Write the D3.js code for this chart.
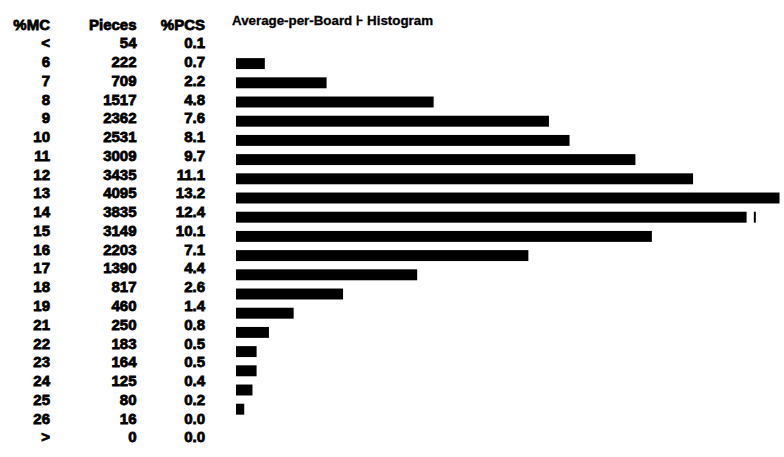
<!DOCTYPE html>
<html>
<head>
<meta charset="utf-8">
<script src="https://cdn.jsdelivr.net/npm/d3@7"></script>
<style>
  body { margin: 0; background: #fff; }
  text { font-family: "Liberation Sans", Arial, sans-serif; font-weight: bold; fill: #000; }
  .cell { font-size: 15px; stroke: #000; stroke-width: 0.8px; }
  .title { font-size: 12.5px; stroke: #000; stroke-width: 0.3px; }
  .bar { fill: #000; }
</style>
</head>
<body>
<script>
// table data
const mcClasses = ["<", "6", "7", "8", "9", "10", "11", "12", "13", "14", "15",
                   "16", "17", "18", "19", "21", "22", "23", "24", "25", "26", ">"];
const pieces = [54, 222, 709, 1517, 2362, 2531, 3009, 3435, 4095, 3835, 3149,
                2203, 1390, 817, 460, 250, 183, 164, 125, 80, 16, 0];
const pctPieces = [0.1, 0.7, 2.2, 4.8, 7.6, 8.1, 9.7, 11.1, 13.2, 12.4, 10.1,
                   7.1, 4.4, 2.6, 1.4, 0.8, 0.5, 0.5, 0.4, 0.2, 0.0, 0.0];
const headers = ["%MC", "Pieces", "%PCS"];
const chartTitle = "Average-per-Board \u22A6 Histogram";
const overflowClasses = ["<", ">"]; // no bar for these
const markerClass = "14", markerValue = 12.6;

let width = 784, height = 457;
let svg = null;
let yRow, yBar, x = null; // scales
let rows, histRows;

buildRows();
appendSvg("body");
setupScales();
appendTable();
appendTitle();
appendBars();
appendMarker();

function buildRows() {
  rows = mcClasses.map((c, i) => ({mc: c, pieces: pieces[i], pct: pctPieces[i]}));
  histRows = rows.filter(d => !overflowClasses.includes(d.mc));
}

function appendSvg(domElement) {
  svg = d3.select(domElement).append("svg")
    .attr("width", width)
    .attr("height", height);
}

function setupScales() {
  // table rows
  yRow = d3.scaleBand()
    .domain(mcClasses)
    .range([33.6, 446.3]);

  // histogram rows sit on their own slightly wider grid
  yBar = d3.scaleBand()
    .domain(histRows.map(d => d.mc))
    .range([54, 438])
    .paddingInner(0.43)
    .paddingOuter(0.215);

  x = d3.scaleLinear()
    .domain([0, 13.26])
    .range([236, 782]);
}

function appendTable() {
  const cols = [
    {x: 50, get: d => d.mc},
    {x: 136.5, get: d => d.pieces},
    {x: 205, get: d => d.pct.toFixed(1)}
  ];
  const headY = yRow(mcClasses[0]) - yRow.step() / 2;

  cols.forEach((col, ci) => {
    svg.append("text")
      .attr("class", "cell")
      .attr("x", col.x)
      .attr("y", headY)
      .attr("dy", "0.36em")
      .attr("text-anchor", "end")
      .text(headers[ci]);

    svg.selectAll(null)
      .data(rows)
      .enter().append("text")
      .attr("class", "cell")
      .attr("x", col.x)
      .attr("y", d => yRow(d.mc) + yRow.bandwidth() / 2)
      .attr("dy", "0.36em")
      .attr("text-anchor", "end")
      .text(col.get);
  });
}

function appendTitle() {
  svg.append("text")
    .attr("class", "title")
    .attr("x", 232)
    .attr("y", 25)
    .attr("textLength", 201)
    .attr("lengthAdjust", "spacingAndGlyphs")
    .text(chartTitle);
}

function appendBars() {
  svg.selectAll(".bar")
    .data(histRows)
    .enter().append("rect")
    .attr("class", "bar")
    .attr("x", x(0))
    .attr("y", d => yBar(d.mc))
    .attr("width", d => x(d.pct) - x(0))
    .attr("height", yBar.bandwidth());
}

function appendMarker() {
  svg.append("rect")
    .attr("class", "bar")
    .attr("x", x(markerValue) - 1)
    .attr("y", yBar(markerClass))
    .attr("width", 2)
    .attr("height", yBar.bandwidth());
}
</script>
</body>
</html>
